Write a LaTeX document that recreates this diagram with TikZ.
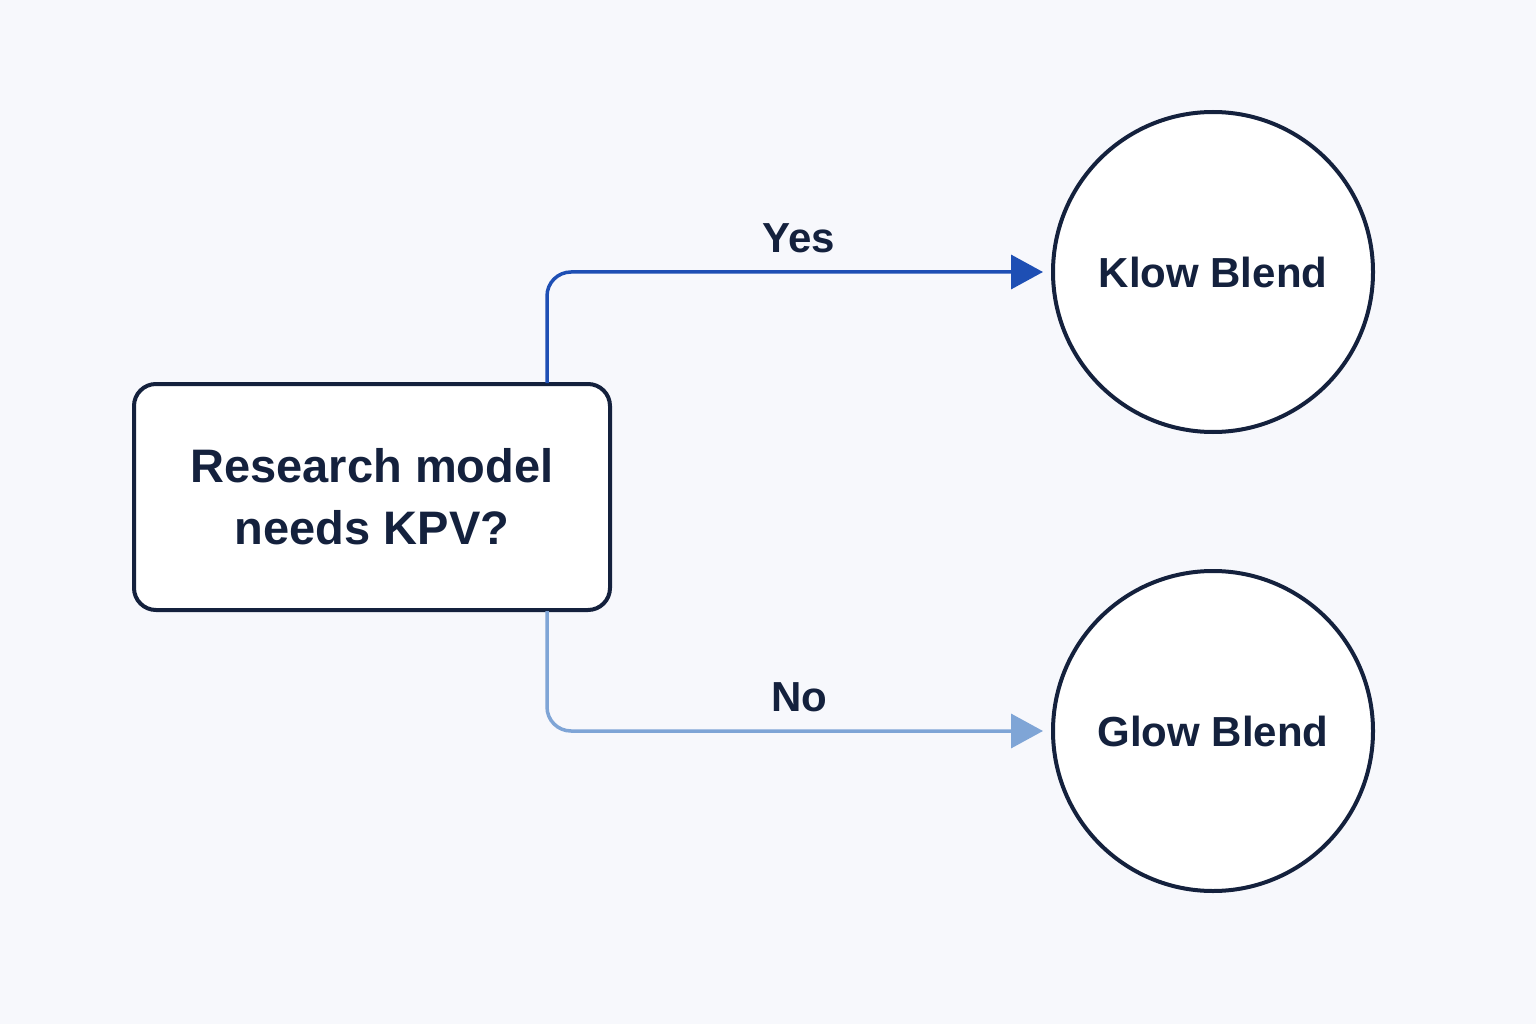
\documentclass[tikz,border=0pt]{standalone}
\usepackage{fontspec}
\setmainfont{Liberation Sans}
\usetikzlibrary{arrows.meta}
\definecolor{bg}{HTML}{F7F8FC}
\definecolor{ink}{HTML}{14213D}
\definecolor{yesc}{HTML}{1E4FB4}
\definecolor{noc}{HTML}{7FA5D6}
\begin{document}
\begin{tikzpicture}[x=1pt,y=-1pt,
  lbl/.style={font=\bfseries\fontsize{42}{50}\selectfont, text=ink},
  circ/.style={circle, draw=ink, line width=4pt, fill=white, minimum size=320pt, lbl},
  link/.style={line width=3.5pt, rounded corners=24pt, shorten >=8pt, -{Triangle[length=32pt,width=34pt]}}]
\fill[bg] (0,0) rectangle (1536,1024);
\useasboundingbox (0,0) rectangle (1536,1024);
\node[draw=ink, line width=4pt, fill=white, rounded corners=22pt, minimum width=476pt, minimum height=226pt, align=center, lbl, font=\bfseries\fontsize{47}{62}\selectfont] (q) at (372,497) {Research model\\needs KPV?};
\node[circ] (k) at (1213,272) {Klow Blend};
\node[circ] (g) at (1213,731) {Glow Blend};
\coordinate (qa) at (547,383);
\coordinate (qb) at (547,611);
\draw[link, draw=yesc] (qa) |- (k.west) node[pos=0.75, above=14pt, lbl] {Yes};
\draw[link, draw=noc] (qb) |- (g.west) node[pos=0.75, above=14pt, lbl] {No};
\end{tikzpicture}
\end{document}
